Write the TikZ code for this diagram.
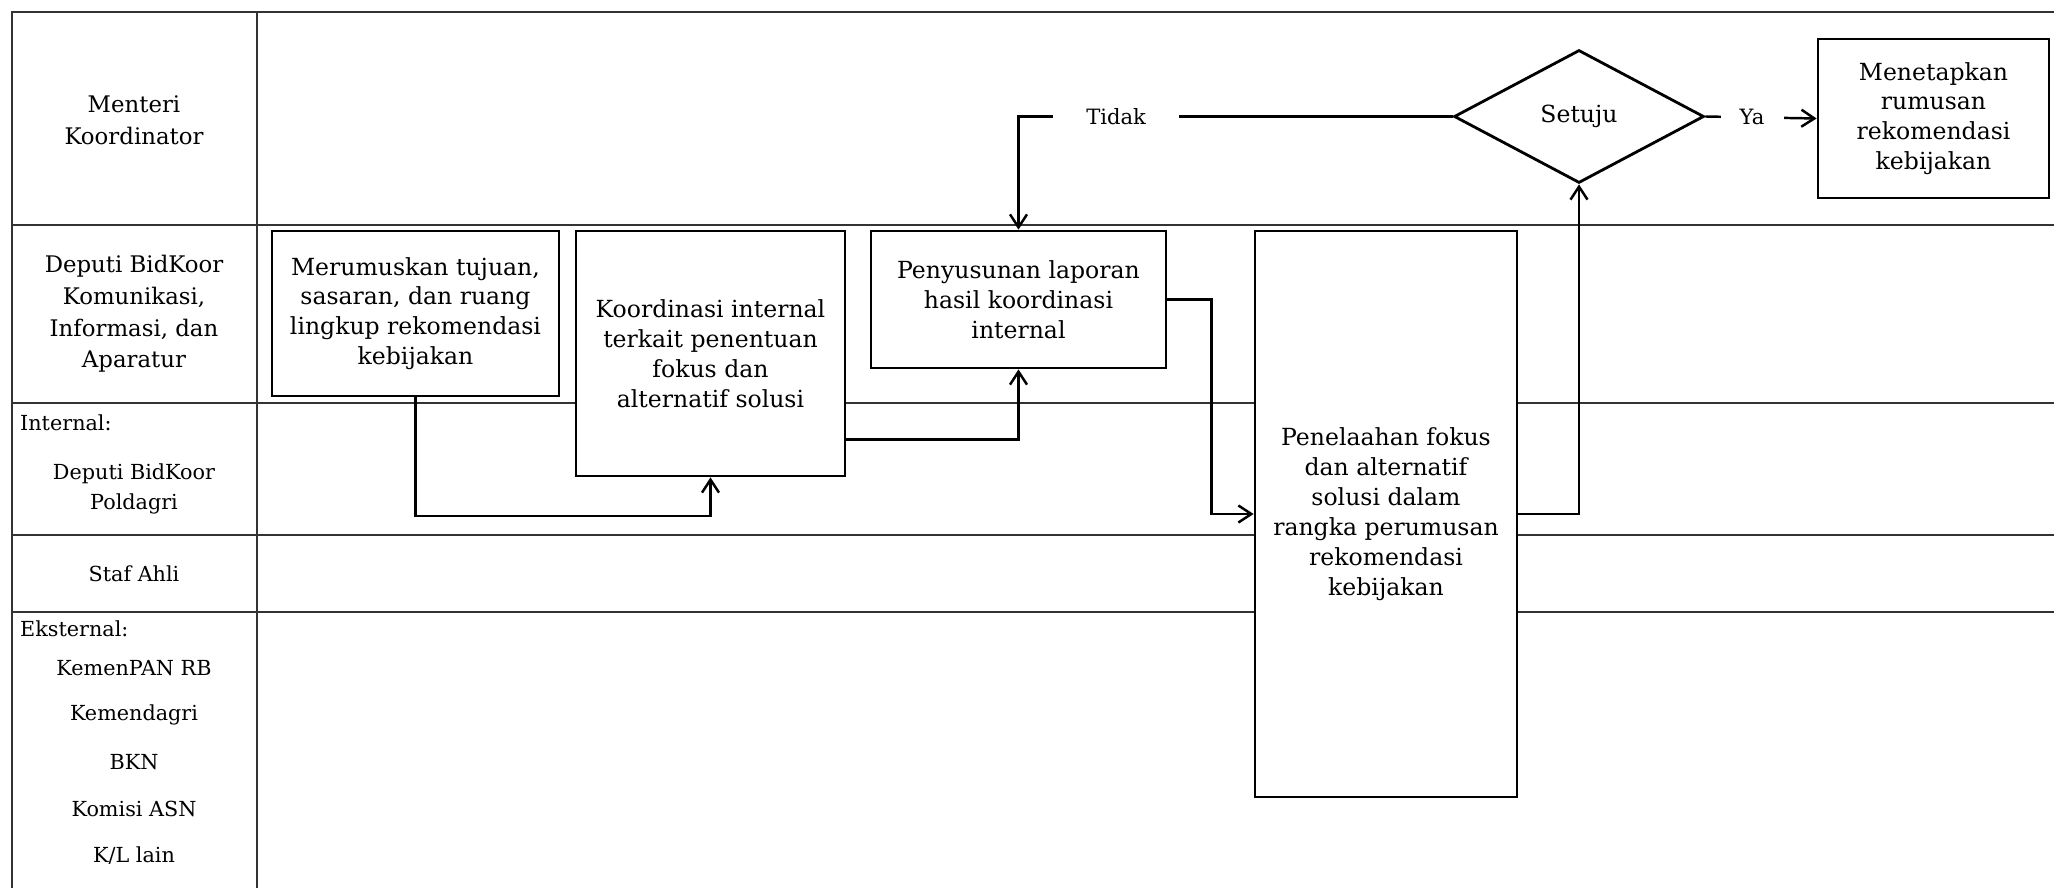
\documentclass[tikz,border=0pt]{standalone}
\usepackage{fontspec}
\setmainfont{DejaVu Serif}
\usetikzlibrary{arrows.meta,positioning,calc,shapes.geometric}
\definecolor{laneGray}{HTML}{333333}

\begin{document}
\begin{tikzpicture}[x=0.02cm,y=-0.02cm,
    font=\fontsize{13.4}{17}\selectfont,
    lane/.style={draw=laneGray,line width=1.1pt},
    proc/.style={draw,line width=1.6pt,fill=white,align=center,inner sep=2pt},
    decide/.style={diamond,draw,line width=1.6pt,fill=white,inner sep=0pt,
                   minimum width=5cm,minimum height=2.66cm},
    flow/.style={line width=1.4pt,-{Straight Barb[length=2.6mm,width=3.4mm]}},
    who/.style={align=center,font=\fontsize{13}{18}\selectfont},
    sub/.style={align=center,font=\fontsize{11.8}{17}\selectfont},
    tag/.style={fill=white,inner ysep=2pt,font=\fontsize{12}{14}\selectfont}]

  \useasboundingbox (0,0) rectangle (2054,888);

  % swimlane grid
  \draw[lane] (2054,12) -- (12,12) -- (12,888);
  \draw[lane] (257,12) -- (257,888);
  \foreach \y in {225,403,535,612}
    \draw[lane] (12,\y) -- (2054,\y);

  % lane labels
  \node[who] (lMenko) at (134,120) {Menteri\\Koordinator};
  \node[who] (lDeputi) at (134,314) {Deputi BidKoor\\Komunikasi,\\Informasi, dan\\Aparatur};
  \node[sub,anchor=west] (lInt) at (14,423) {Internal:};
  \node[sub] (lPoldagri) at (134,489) {Deputi BidKoor\\Poldagri};
  \node[sub] (lStaf) at (134,574) {Staf Ahli};
  \node[sub,anchor=west] (lEks) at (14,629) {Eksternal:};
  \foreach \t [count=\i] in {KemenPAN RB,Kemendagri,BKN,Komisi ASN,K/L lain}
    \node[sub] (lEks\i) at (134,{621+47*\i}) {\t};

  % process steps
  \node[proc,minimum width=5.74cm,minimum height=3.3cm] (rumus) at (415.5,313.5)
    {Merumuskan tujuan,\\sasaran, dan ruang\\lingkup rekomendasi\\kebijakan};
  \node[proc,minimum width=5.38cm,minimum height=4.9cm] (koord) at (710.5,353.5)
    {Koordinasi internal\\terkait penentuan\\fokus dan\\alternatif solusi};
  \node[proc,minimum width=5.9cm,minimum height=2.74cm] (lapor) at (1018.5,299.5)
    {Penyusunan laporan\\hasil koordinasi\\internal};
  \node[proc,minimum width=5.24cm,minimum height=11.32cm] (telaah) at (1386,514)
    {Penelaahan fokus\\dan alternatif\\solusi dalam\\rangka perumusan\\rekomendasi\\kebijakan};
  \node[decide] (setuju) at (1579,116.5) {Setuju};
  \node[proc,minimum width=4.62cm,minimum height=3.18cm] (tetap) at (1933.5,118.5)
    {Menetapkan\\rumusan\\rekomendasi\\kebijakan};

  % flow
  \coordinate (low) at (0,516);
  \draw[flow] (rumus.south) -- (rumus.south |- low) -| (koord.south);
  \draw[flow] ($(koord.south east)+(0,-38)$) -| (lapor.south);
  \draw[flow] (lapor.east) -- ++(44,0) |- (telaah.west);
  \draw[flow] (telaah.east) -| (setuju.south);
  \draw[flow] (setuju.west) -| node[tag,pos=0.3875,inner xsep=0.66cm] {Tidak} (lapor.north);
  \draw[flow] (setuju.east) -- node[tag,pos=0.42,inner xsep=0.38cm] {Ya} (tetap.west);
\end{tikzpicture}
\end{document}
